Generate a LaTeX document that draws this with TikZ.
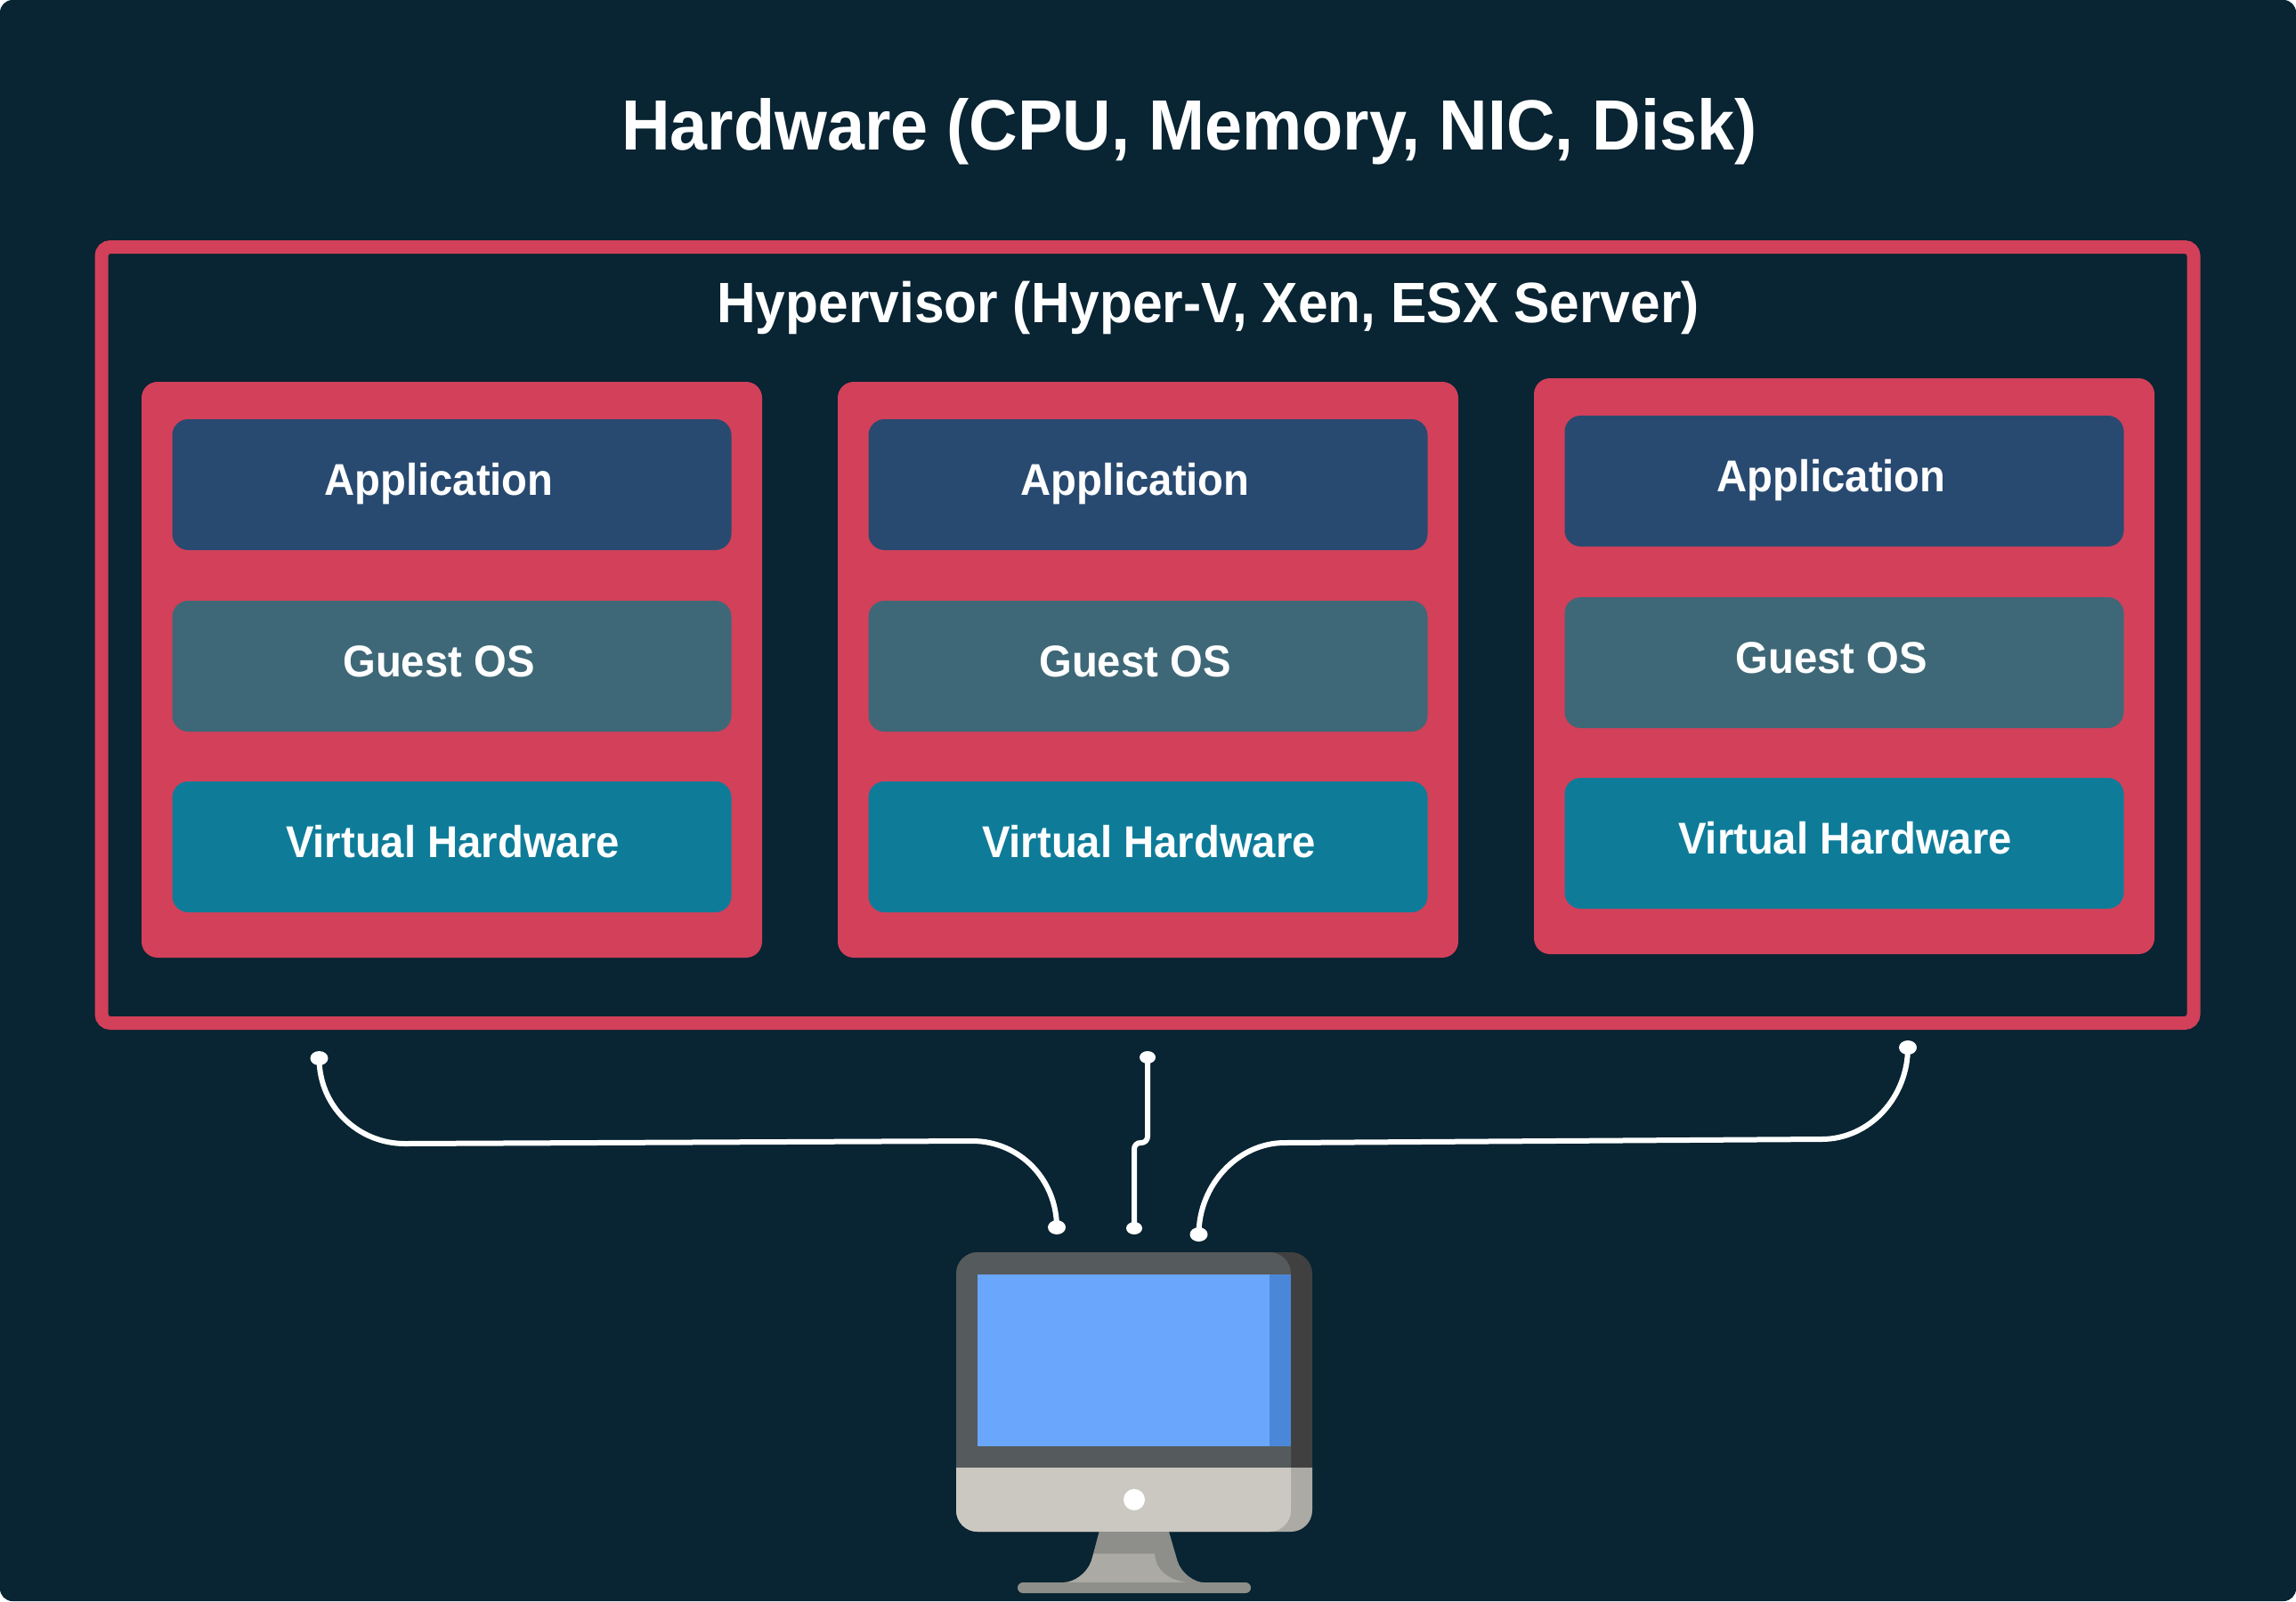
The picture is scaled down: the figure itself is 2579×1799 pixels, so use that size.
\documentclass[tikz,border=0pt]{standalone}
\usepackage{fontspec}
\usepackage{xcolor}
\usetikzlibrary{shapes.geometric}
\setmainfont{Liberation Sans}
\newfontfamily\labelfont{Liberation Sans}[FakeStretch=0.945]
\definecolor{bgnavy}{HTML}{092432}
\definecolor{vmred}{HTML}{D2405A}
\definecolor{appblue}{HTML}{284A70}
\definecolor{guestteal}{HTML}{3E6877}
\definecolor{virtcyan}{HTML}{0E7C99}
\definecolor{screenblue}{HTML}{69A6FC}
\definecolor{screenside}{HTML}{4B87D9}
\definecolor{framegrey}{HTML}{555A5C}
\definecolor{frameside}{HTML}{404040}
\definecolor{chinlight}{HTML}{CBC8C1}
\definecolor{chinside}{HTML}{ABAAA4}
\definecolor{standdark}{HTML}{8E8F8A}
\tikzset{
  vmbox/.style={fill=vmred,rounded corners=18pt,minimum width=697pt,minimum height=647pt,inner sep=0pt},
  layerbox/.style={rounded corners=18pt,minimum width=628pt,minimum height=147pt,inner sep=0pt},
  layertext/.style={text=white,anchor=base,inner sep=0pt,font=\labelfont\bfseries\fontsize{50}{55}\selectfont},
  headtext/.style={text=white,anchor=base,inner sep=0pt,font=\labelfont\bfseries},
  wireend/.style={ellipse,fill=white,inner sep=0pt,minimum width=20pt,minimum height=16pt},
  wire/.style={draw=white,line width=6pt}
}
\begin{document}
\begin{tikzpicture}[x=1pt,y=-1pt]
    \useasboundingbox (0,0) rectangle (2579,1799);
    \fill[white] (-5,-5) rectangle (2584,1804);
    \fill[bgnavy,rounded corners=14pt] (0,0) rectangle (2579,1799);
    \node[headtext,font=\labelfont\bfseries\fontsize{80}{90}\selectfont] (hardware) at (1336,168) {Hardware (CPU, Memory, NIC, Disk)};
    % Hypervisor frame with its title
    \node[draw=vmred,line width=15pt,rounded corners=10pt,minimum width=2350pt,minimum height=872pt,inner sep=0pt] (hypervisor) at (1289,713.5) {};
    \node[headtext,font=\labelfont\bfseries\fontsize{64}{70}\selectfont] (hypervisortitle) at (1357,362) {Hypervisor (Hyper-V, Xen, ESX Server)};
    % Three guest stacks, the last one sits a little higher
    \foreach \vx/\vy/\n in {159/429/1,941/429/2,1723/425/3} {
        \node[vmbox] (vm\n) at (\vx+348.5,\vy+323.5) {};
        \node[layerbox,fill=appblue] (app\n) at (\vx+348.5,\vy+115.5) {};
        \node[layerbox,fill=guestteal] (guest\n) at (\vx+348.5,\vy+319.5) {};
        \node[layerbox,fill=virtcyan] (virt\n) at (\vx+348.5,\vy+522.5) {};
        \node[layertext] (apptext\n) at (\vx+334,\vy+127.7) {Application};
        \node[layertext] (guesttext\n) at (\vx+334,\vy+331.7) {Guest OS};
        \node[layertext] (virttext\n) at (\vx+349.5,\vy+534.7) {Virtual Hardware};
    }
    % Connector ends
    \node[wireend] (endA) at (358.5,1189) {};
    \node[wireend] (endB) at (1187,1379) {};
    \node[wireend,minimum width=18pt,minimum height=14pt] (endC) at (1289,1188) {};
    \node[wireend,minimum width=18pt,minimum height=14pt] (endD) at (1274,1380) {};
    \node[wireend] (endE) at (1346.5,1387) {};
    \node[wireend] (endF) at (2143,1177) {};
    \draw[wire] (endA.center) .. controls (358.5,1243) and (402,1285) .. (455,1285) -- (1092,1282) .. controls (1145,1282) and (1187,1325) .. (endB.center);
    \draw[wire] (endF.center) .. controls (2143,1233) and (2100,1280) .. (2046,1280) -- (1443,1284) .. controls (1390,1284) and (1346.5,1332) .. (endE.center);
    \draw[wire,rounded corners=7pt] (endC.center) -- (1289,1284) -- (1274,1284) -- (endD.center);
    % Monitor
    \begin{scope}
        \clip (1074,1407) rectangle (1474,1649);
        \fill[frameside,rounded corners=24pt] (1074,1407) rectangle (1474,1721);
        \fill[framegrey,rounded corners=24pt] (1074,1407) rectangle (1450,1721);
    \end{scope}
    \begin{scope}
        \clip (1074,1649) rectangle (1474,1721);
        \fill[chinside,rounded corners=24pt] (1074,1407) rectangle (1474,1721);
        \fill[chinlight,rounded corners=24pt] (1074,1407) rectangle (1450,1721);
    \end{scope}
    \fill[screenblue] (1098,1432) rectangle (1426,1625);
    \fill[screenside] (1426,1432) rectangle (1450,1625);
    \fill[white] (1274,1685) circle (12);
    % Stand
    \fill[standdark] (1234.6,1721) -- (1313,1721) -- (1322.6,1754) .. controls (1327,1768) and (1342,1778) .. (1352,1778) -- (1195,1778) .. controls (1206,1778) and (1221,1768) .. (1225.8,1754) -- cycle;
    \fill[chinside] (1228.5,1745.5) -- (1296.6,1745.5) -- (1298.5,1754) .. controls (1302,1768) and (1320,1778) .. (1337,1778) -- (1195,1778) .. controls (1206,1778) and (1221,1768) .. (1225.8,1754) -- cycle;
    \fill[standdark,rounded corners=6pt] (1143,1778) rectangle (1405,1790);
\end{tikzpicture}
\end{document}
